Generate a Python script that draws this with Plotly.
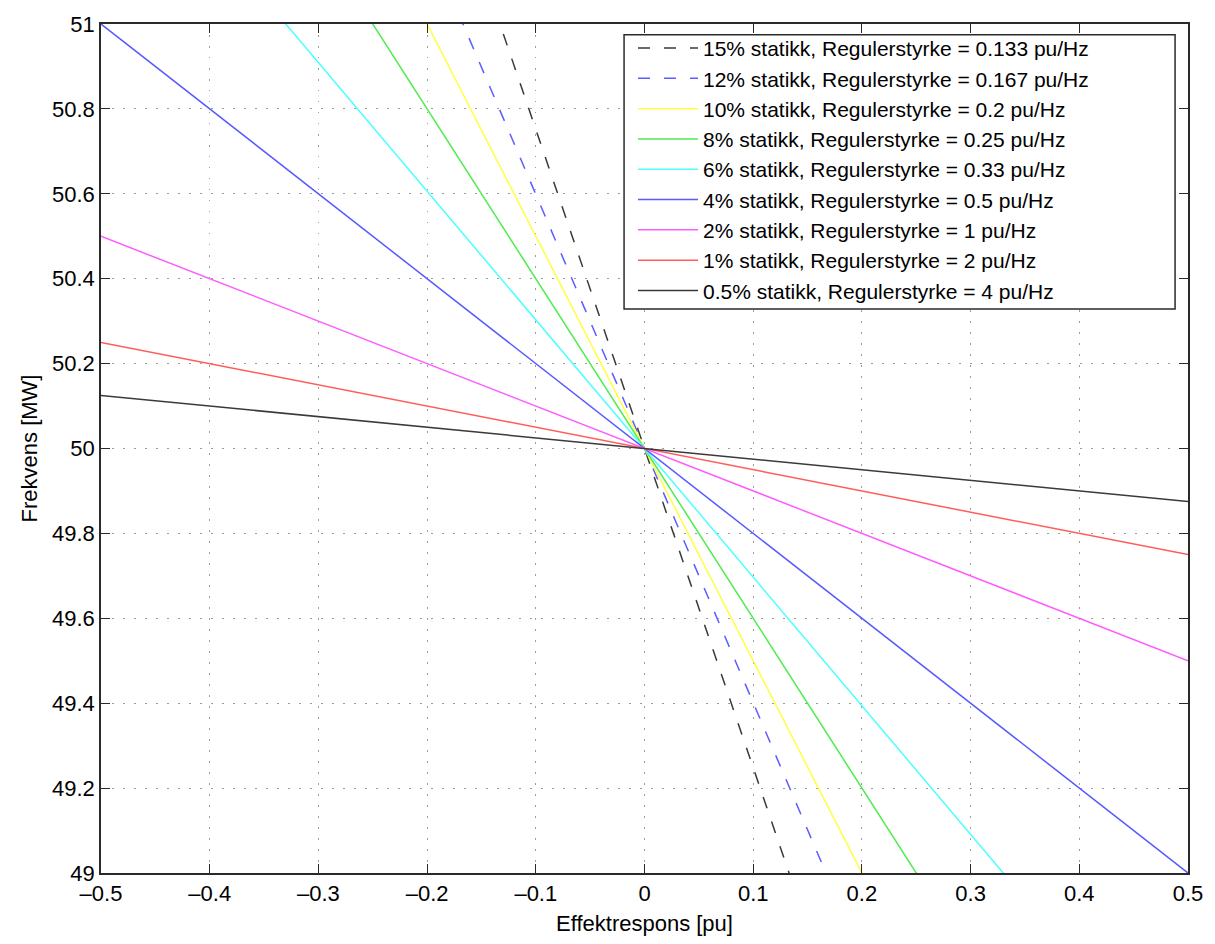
import plotly.graph_objects as go

# Droop settings and the matching regulating strength (pu/Hz)
droop_labels = ["15%", "12%", "10%", "8%", "6%", "4%", "2%", "1%", "0.5%"]
strength_labels = ["0.133", "0.167", "0.2", "0.25", "0.33", "0.5", "1", "2", "4"]
strengths = [0.133, 0.167, 0.2, 0.25, 0.33, 0.5, 1.0, 2.0, 4.0]
line_colors = ["#3a3a3a", "#5c5cff", "#ffff40", "#4ced4c", "#4cffff",
               "#5858ff", "#ff5cff", "#ff5c5c", "#3a3a3a"]
line_dashes = ["12px,14px", "12px,14px", "solid", "solid", "solid",
               "solid", "solid", "solid", "solid"]

f_nominal = 50.0
power_span = [-0.5, 0.5]          # effektrespons [pu]
x_ticks = [-0.5, -0.4, -0.3, -0.2, -0.1, 0, 0.1, 0.2, 0.3, 0.4, 0.5]
y_ticks = [49, 49.2, 49.4, 49.6, 49.8, 50, 50.2, 50.4, 50.6, 50.8, 51]

FONT = "Liberation Sans, Arial, sans-serif"

fig = go.Figure()
for droop, s_txt, s, col, dash in zip(droop_labels, strength_labels, strengths,
                                      line_colors, line_dashes):
    # Frequency response: f = f0 - P / R
    freqs = [f_nominal - p / s for p in power_span]
    fig.add_trace(go.Scatter(
        x=power_span, y=freqs, mode="lines",
        line=dict(color=col, width=1.5, dash=dash),
        name=f"{droop} statikk, Regulerstyrke = {s_txt} pu/Hz",
    ))

axis_common = dict(
    showline=True, linecolor="#2a2a2a", linewidth=1.5, mirror="ticks",
    ticks="inside", ticklen=9, tickcolor="#2a2a2a", tickwidth=1.2,
    showgrid=True, gridcolor="#9c9c9c", gridwidth=1.3, griddash="1.5px,9.5px",
    zeroline=False,
    tickfont=dict(family=FONT, size=22, color="black"),
)

fig.update_xaxes(range=[-0.5, 0.5], tickvals=x_ticks,
                 ticktext=[f"{v:g}".replace("-", "\u2013") for v in x_ticks],
                 title=dict(text="Effektrespons [pu]", standoff=10,
                            font=dict(family=FONT, size=22, color="black")),
                 **axis_common)
fig.update_yaxes(range=[49, 51], tickvals=y_ticks,
                 ticktext=[f"{v:g}" for v in y_ticks],
                 title=dict(text="Frekvens [MW]", standoff=8,
                            font=dict(family=FONT, size=22, color="black")),
                 **axis_common)

# Legend frame: a white box with a dark border, drawn over the lines
fig.add_shape(type="rect", xref="paper", yref="paper",
              x0=0.4812, x1=0.9881, y0=0.6643, y1=0.9872,
              fillcolor="white", line=dict(color="#2a2a2a", width=1.5),
              layer="above")

fig.update_layout(
    width=1215, height=944,
    margin=dict(l=101, r=25, t=17, b=66),
    paper_bgcolor="white", plot_bgcolor="white",
    showlegend=True,
    legend=dict(
        x=0.4894, y=0.9954, xanchor="left", yanchor="top",
        bgcolor="rgba(0,0,0,0)", borderwidth=0,
        font=dict(family=FONT, size=21, color="black"),
        itemwidth=60,
    ),
)

fig.write_html("out.html")
